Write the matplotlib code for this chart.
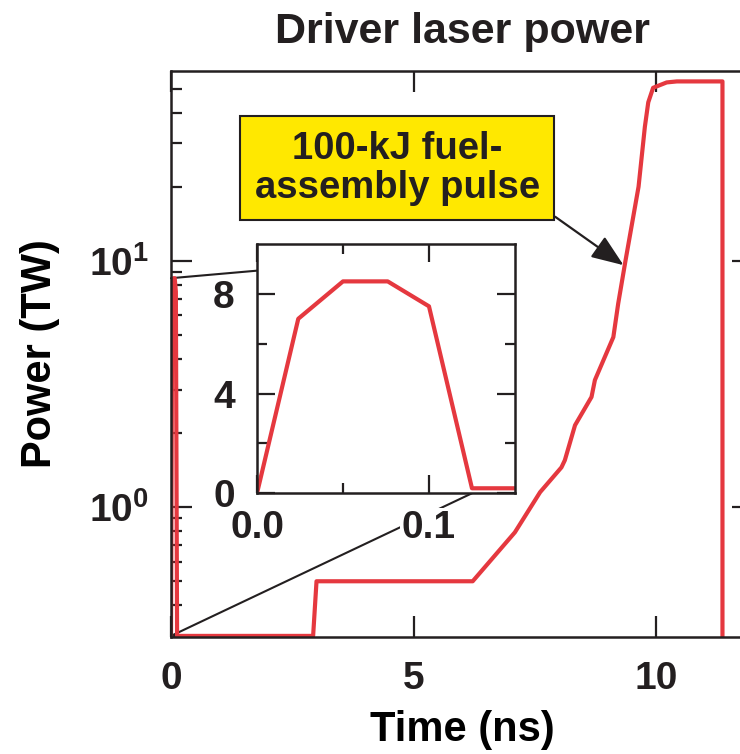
import numpy as np
import matplotlib
matplotlib.use("Agg")
from matplotlib import pyplot as plt
from matplotlib.patches import ConnectionPatch
from matplotlib.ticker import FixedLocator, FuncFormatter, NullFormatter

# main pulse trace, time in ns, power in TW (0.3 = floor of the plot)
time_ns = [0.0, 0.024, 0.05, 0.076, 0.1, 0.125, 2.93, 3.0, 6.22, 7.09,
           7.61, 8.05, 8.12, 8.33, 8.67, 8.74, 9.12, 9.22, 9.37, 9.64,
           9.77, 9.84, 9.94, 10.22, 10.43, 11.37, 11.37]
power_tw = [0.3, 7.0, 8.5, 8.5, 7.5, 0.3, 0.3, 0.5, 0.5, 0.79,
            1.15, 1.45, 1.55, 2.15, 2.8, 3.28, 4.9, 6.7, 10.0, 20.0,
            35.0, 44.0, 50.4, 53.0, 53.5, 53.5, 0.3]

# picket (prepulse) detail for the inset
picket_t = [0.0, 0.024, 0.05, 0.076, 0.1, 0.125, 0.15]
picket_p = [0.0, 7.0, 8.5, 8.5, 7.5, 0.2, 0.2]

x_ticks = [0, 5, 10]
inset_xticks = [0.0, 0.1]
inset_yticks = [0, 4, 8]

red = "#e5383f"
ink = "#231f20"
plt.rcParams["font.family"] = ["Liberation Sans", "DejaVu Sans"]
plt.rcParams["font.weight"] = "bold"
plt.rcParams["mathtext.fontset"] = "custom"
plt.rcParams["mathtext.rm"] = "Liberation Sans:bold"
plt.rcParams["mathtext.it"] = "Liberation Sans:bold"
plt.rcParams["mathtext.bf"] = "Liberation Sans:bold"
plt.rcParams["text.color"] = ink
plt.rcParams["xtick.color"] = ink
plt.rcParams["ytick.color"] = ink

fig = plt.figure(figsize=(7.4, 7.54), dpi=100)
ax = fig.add_axes([0.2311, 0.1552, 0.7865, 0.7507])

ax.plot(time_ns, power_tw, color=red, lw=3.0, solid_joinstyle="round")
ax.set_yscale("log")
ax.set_xlim(0, 12)
ax.set_ylim(0.297, 59)

ax.xaxis.set_major_locator(FixedLocator(x_ticks))
ax.yaxis.set_major_formatter(FuncFormatter(lambda v, p: r"$10^{%d}$" % round(np.log10(v))))
ax.yaxis.set_minor_formatter(NullFormatter())
ax.tick_params(which="both", direction="in", top=True, right=True,
               width=1.6, labelsize=28, color=ink)
ax.tick_params(which="major", length=15)
ax.tick_params(which="minor", length=8)
ax.tick_params(axis="x", pad=17)
ax.tick_params(axis="y", pad=16)
for s in ax.spines.values():
    s.set_linewidth(1.8)
    s.set_color(ink)

ax.set_title("Driver laser power", fontsize=31, fontweight="bold", pad=20)
ax.set_xlabel("Time (ns)", fontsize=30, fontweight="bold", labelpad=10)
ax.set_ylabel("Power (TW)", fontsize=30, fontweight="bold")
ax.yaxis.set_label_coords(-0.19, 0.5)

ax.annotate("100-kJ fuel-\nassembly pulse", xy=(9.33, 9.6),
            xytext=(0.537, 0.7768), textcoords="figure fraction",
            ha="center", va="center", fontsize=27.5, fontweight="bold",
            linespacing=1.12,
            bbox=dict(boxstyle="square,pad=0.38", fc="#ffe800", ec=ink, lw=1.5),
            arrowprops=dict(arrowstyle="-|>,head_length=0.9,head_width=0.35",
                            mutation_scale=22, color=ink, lw=1.6, relpos=(1, 0),
                            shrinkA=0, shrinkB=0))

# inset
ins = fig.add_axes([0.3473, 0.3458, 0.3486, 0.3306])
ins.plot(picket_t, picket_p, color=red, lw=3.0)
ins.set_xlim(0, 0.15)
ins.set_ylim(0, 10)
ins.xaxis.set_major_locator(FixedLocator(inset_xticks))
ins.xaxis.set_minor_locator(FixedLocator([0.05]))
ins.yaxis.set_major_locator(FixedLocator(inset_yticks))
ins.yaxis.set_minor_locator(FixedLocator([2, 6]))
ins.xaxis.set_major_formatter(FuncFormatter(lambda v, p: "%.1f" % v))
ins.yaxis.set_major_formatter(FuncFormatter(lambda v, p: "%d" % v))
ins.tick_params(which="both", direction="in", top=True, right=True,
                width=1.6, labelsize=28, color=ink)
ins.tick_params(which="major", length=13)
ins.tick_params(which="minor", length=7)
ins.tick_params(axis="x", pad=12)
ins.tick_params(axis="y", pad=16)
for s in ins.spines.values():
    s.set_linewidth(1.8)
    s.set_color(ink)
for lab in ins.get_xticklabels():
    lab.set_bbox(dict(fc="white", ec="none", pad=1))

con1 = ConnectionPatch(xyA=(0, 8.5), coordsA=ax.transData,
                       xyB=(0, 0.893), coordsB=ins.transAxes,
                       color=ink, lw=1.5)
con2 = ConnectionPatch(xyA=(0, 0.3), coordsA=ax.transData,
                       xyB=(0.125, 0), coordsB=ins.transData,
                       color=ink, lw=1.5)
ax.add_artist(con1)
ax.add_artist(con2)

fig.savefig("out.png", dpi=100)
